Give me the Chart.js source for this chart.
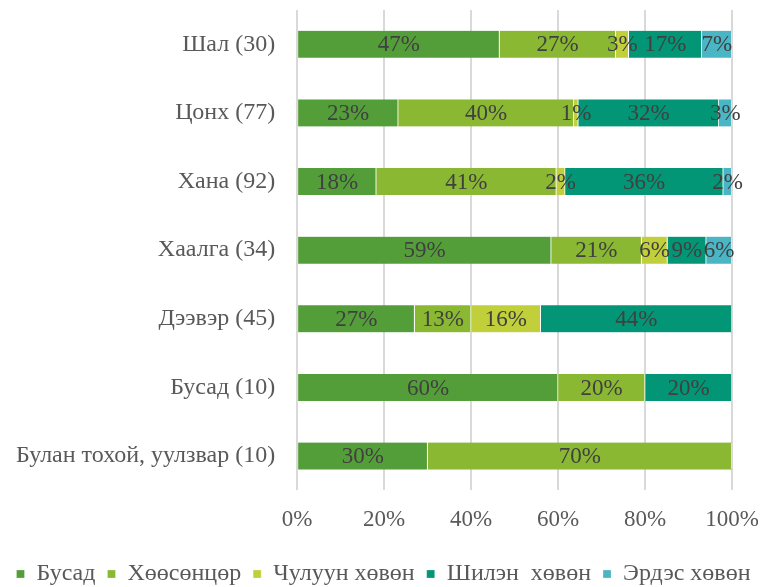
<!DOCTYPE html>
<html>
<head>
<meta charset="utf-8">
<script src="https://cdn.jsdelivr.net/npm/chart.js@4.4.0/dist/chart.umd.min.js"></script>
<style>
    html, body { margin: 0; padding: 0; background: #ffffff; }
    #wrap { width: 765px; height: 587px; }
</style>
</head>
<body>
<div id="wrap"><canvas id="insulation-chart"></canvas></div>
<script>
// Building parts (sample size in brackets)
const categories = [
    'Шал (30)',
    'Цонх (77)',
    'Хана (92)',
    'Хаалга (34)',
    'Дээвэр (45)',
    'Бусад (10)',
    'Булан тохой, уулзвар (10)'
];

// Share of each insulation material, %
const busad       = [47, 23, 18, 59, 27, 60, 30];
const khoosontsor = [27, 40, 41, 21, 13, 20, 70];
const chuluun     = [3, 1, 2, 6, 16, 0, 0];
const shilen      = [17, 32, 36, 9, 44, 20, 0];
const erdes       = [7, 3, 2, 6, 0, 0, 0];

const seriesNames = ['Бусад', 'Хөөсөнцөр', 'Чулуун хөвөн', 'Шилэн  хөвөн', 'Эрдэс хөвөн'];
const seriesColors = ['#549E39', '#8AB833', '#C0CF3A', '#029676', '#4AB5C4'];

const xTicks = [0, 20, 40, 60, 80, 100];

const FONT = "'Liberation Serif', 'Times New Roman', serif";

const allSeries = [busad, khoosontsor, chuluun, shilen, erdes];

// rounded percentages don't always add up to 100, so every row is
// scaled to fill the full bar (100% stacked)
const rowTotals = categories.map((_, j) => allSeries.reduce((s, arr) => s + arr[j], 0));
const scaled = allSeries.map(arr => arr.map((v, j) => v * 100 / rowTotals[j]));

// Draws the percentage in the middle of every non-empty segment
const segmentLabels = {
    id: 'segmentLabels',
    afterDatasetsDraw(chart) {
        const ctx = chart.ctx;
        ctx.save();
        ctx.font = '23px ' + FONT;
        ctx.fillStyle = '#404040';
        ctx.textAlign = 'center';
        ctx.textBaseline = 'middle';
        chart.data.datasets.forEach((ds, i) => {
            chart.getDatasetMeta(i).data.forEach((bar, j) => {
                const v = allSeries[i][j];
                if (!v) return;
                ctx.fillText(v + '%', (bar.base + bar.x) / 2, bar.y + 1);
            });
        });
        ctx.restore();
    }
};

new Chart(document.getElementById('insulation-chart'), {
    type: 'bar',
    data: {
        labels: categories,
        datasets: scaled.map((values, i) => ({
            label: seriesNames[i],
            data: values,
            backgroundColor: seriesColors[i],
            borderColor: '#ffffff',
            borderWidth: { right: 1 },
            barThickness: 27
        }))
    },
    options: {
        indexAxis: 'y',
        responsive: true,
        maintainAspectRatio: false,
        animation: false,
        layout: { padding: { left: 2, right: 0, top: 10, bottom: -9 } },
        scales: {
            x: {
                stacked: true,
                min: 0,
                max: 100,
                afterBuildTicks(axis) {
                    axis.ticks = xTicks.map(v => ({ value: v }));
                },
                afterFit(scale) {
                    scale.paddingRight = 33;
                },
                grid: { color: '#d9d9d9', lineWidth: 2, drawTicks: false },
                border: { display: false },
                ticks: {
                    color: '#595959',
                    font: { family: FONT, size: 23 },
                    padding: 16,
                    callback: v => v + '%'
                }
            },
            y: {
                stacked: true,
                grid: { display: false },
                border: { display: false },
                ticks: {
                    color: '#595959',
                    font: { family: FONT, size: 24 },
                    padding: 14
                },
                afterFit(scale) {
                    scale.paddingTop = 0;
                    scale.paddingBottom = 0;
                }
            }
        },
        plugins: {
            legend: {
                position: 'bottom',
                labels: {
                    color: '#595959',
                    font: { family: FONT, size: 24 },
                    boxWidth: 8,
                    boxHeight: 8,
                    padding: 12
                }
            },
            tooltip: { enabled: false }
        }
    },
    plugins: [segmentLabels]
});
</script>
</body>
</html>
